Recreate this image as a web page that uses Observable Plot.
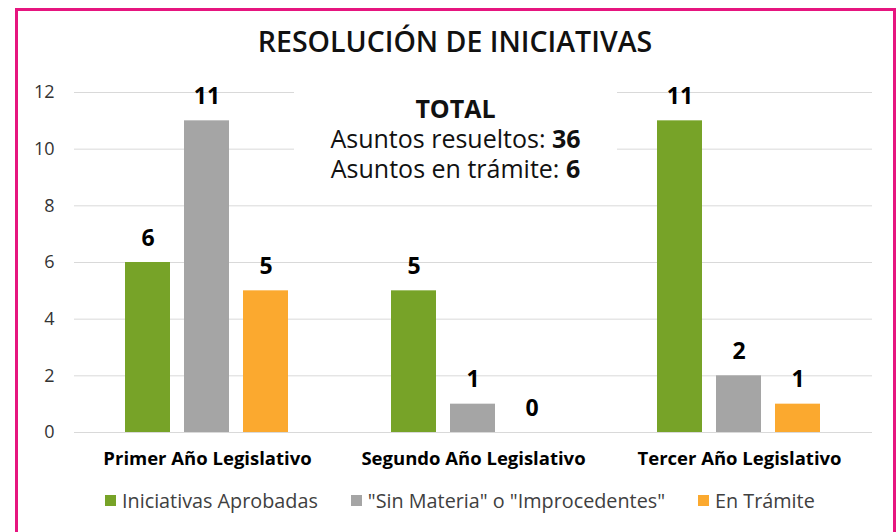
<!DOCTYPE html>
<html>
<head>
<meta charset="utf-8">
<script src="https://cdn.jsdelivr.net/npm/d3@7"></script>
<script src="https://cdn.jsdelivr.net/npm/@observablehq/plot@0.6"></script>
<style>
  html, body { margin: 0; padding: 0; background: #fff; overflow: hidden; }
  body { width: 896px; height: 532px; font-family: "Open Sans", sans-serif; }
  #wrap { position: relative; width: 896px; height: 532px; }
  #frame { position: absolute; left: 15px; top: 8px; width: 881px; height: 600px; box-sizing: border-box; border: 3px solid #e6157f; pointer-events: none; }
  #title { height: 70px; box-sizing: border-box; padding-top: 23px; text-align: center; font-size: 28.5px; font-weight: 600; line-height: 36px; color: #111; padding-left: 14px; }
  #total { position: absolute; left: 294px; top: 84px; width: 323px; height: 104px; background: #fff; box-sizing: border-box; padding-top: 9px; text-align: center; font-size: 25px; line-height: 30px; color: #111; }
  #legend { padding-left: 105px; margin-top: 12px; }
  #legend .lg-swatch { margin-right: 33px !important; }
  #legend .lg-swatch svg { margin-right: 6px !important; }
</style>
</head>
<body>
<div id="wrap">
  <div id="title">RESOLUCIÓN DE INICIATIVAS</div>
  <div id="chart"></div>
  <div id="legend"></div>
  <div id="total"><b>TOTAL</b><br>Asuntos resueltos: <b>36</b><br>Asuntos en trámite: <b>6</b></div>
  <div id="frame"></div>
</div>
<script>
const years = ["Primer Año Legislativo", "Segundo Año Legislativo", "Tercer Año Legislativo"];
const series = ["Iniciativas Aprobadas", "\"Sin Materia\" o \"Improcedentes\"", "En Trámite"];
const aprobadas = [6, 5, 11];
const sinMateria = [11, 1, 2];
const enTramite = [5, 0, 1];
const colors = ["#77a328", "#a5a5a5", "#fba92f"];
const yTicks = [0, 2, 4, 6, 8, 10, 12];

const valuesBySeries = [aprobadas, sinMateria, enTramite];
const data = [];
years.forEach((year, i) => {
  series.forEach((s, j) => {
    data.push({year, series: s, value: valuesBySeries[j][i]});
  });
});

const chart = Plot.plot({
  width: 896,
  height: 402,
  marginLeft: 74,
  marginRight: 24,
  marginTop: 22,
  marginBottom: 40,
  style: {fontFamily: "Open Sans", background: "#fff", overflow: "visible"},
  fx: {domain: years, padding: 0, label: null},
  x: {domain: series, paddingInner: 0.237, paddingOuter: 0.867, axis: null},
  y: {domain: [0, 12], label: null},
  color: {domain: series, range: colors},
  marks: [
    Plot.gridY(yTicks, {stroke: "#d9d9d9", strokeOpacity: 1, strokeWidth: 1}),
    Plot.axisY({ticks: yTicks, tickSize: 0, tickPadding: 20, fontSize: 18, color: "#333", label: null}),
    Plot.axisFx({anchor: "bottom", tickSize: 0, tickPadding: 19, fontSize: 18.5, fontWeight: "bold", color: "#000", label: null}),
    Plot.barY(data, {fx: "year", x: "series", y: "value", fill: "series"}),
    Plot.text(data, {fx: "year", x: "series", y: "value", text: d => String(d.value), lineAnchor: "bottom", dy: -17, fontSize: 23, fontWeight: "bold", fill: "#000"})
  ]
});
document.getElementById("chart").appendChild(chart);

const legend = Plot.legend({
  color: {domain: series, range: colors},
  legend: "swatches",
  swatchSize: 11,
  className: "lg",
  style: {fontSize: "19.8px", fontFamily: "Open Sans", color: "#404040"}
});
document.getElementById("legend").appendChild(legend);
</script>
</body>
</html>
